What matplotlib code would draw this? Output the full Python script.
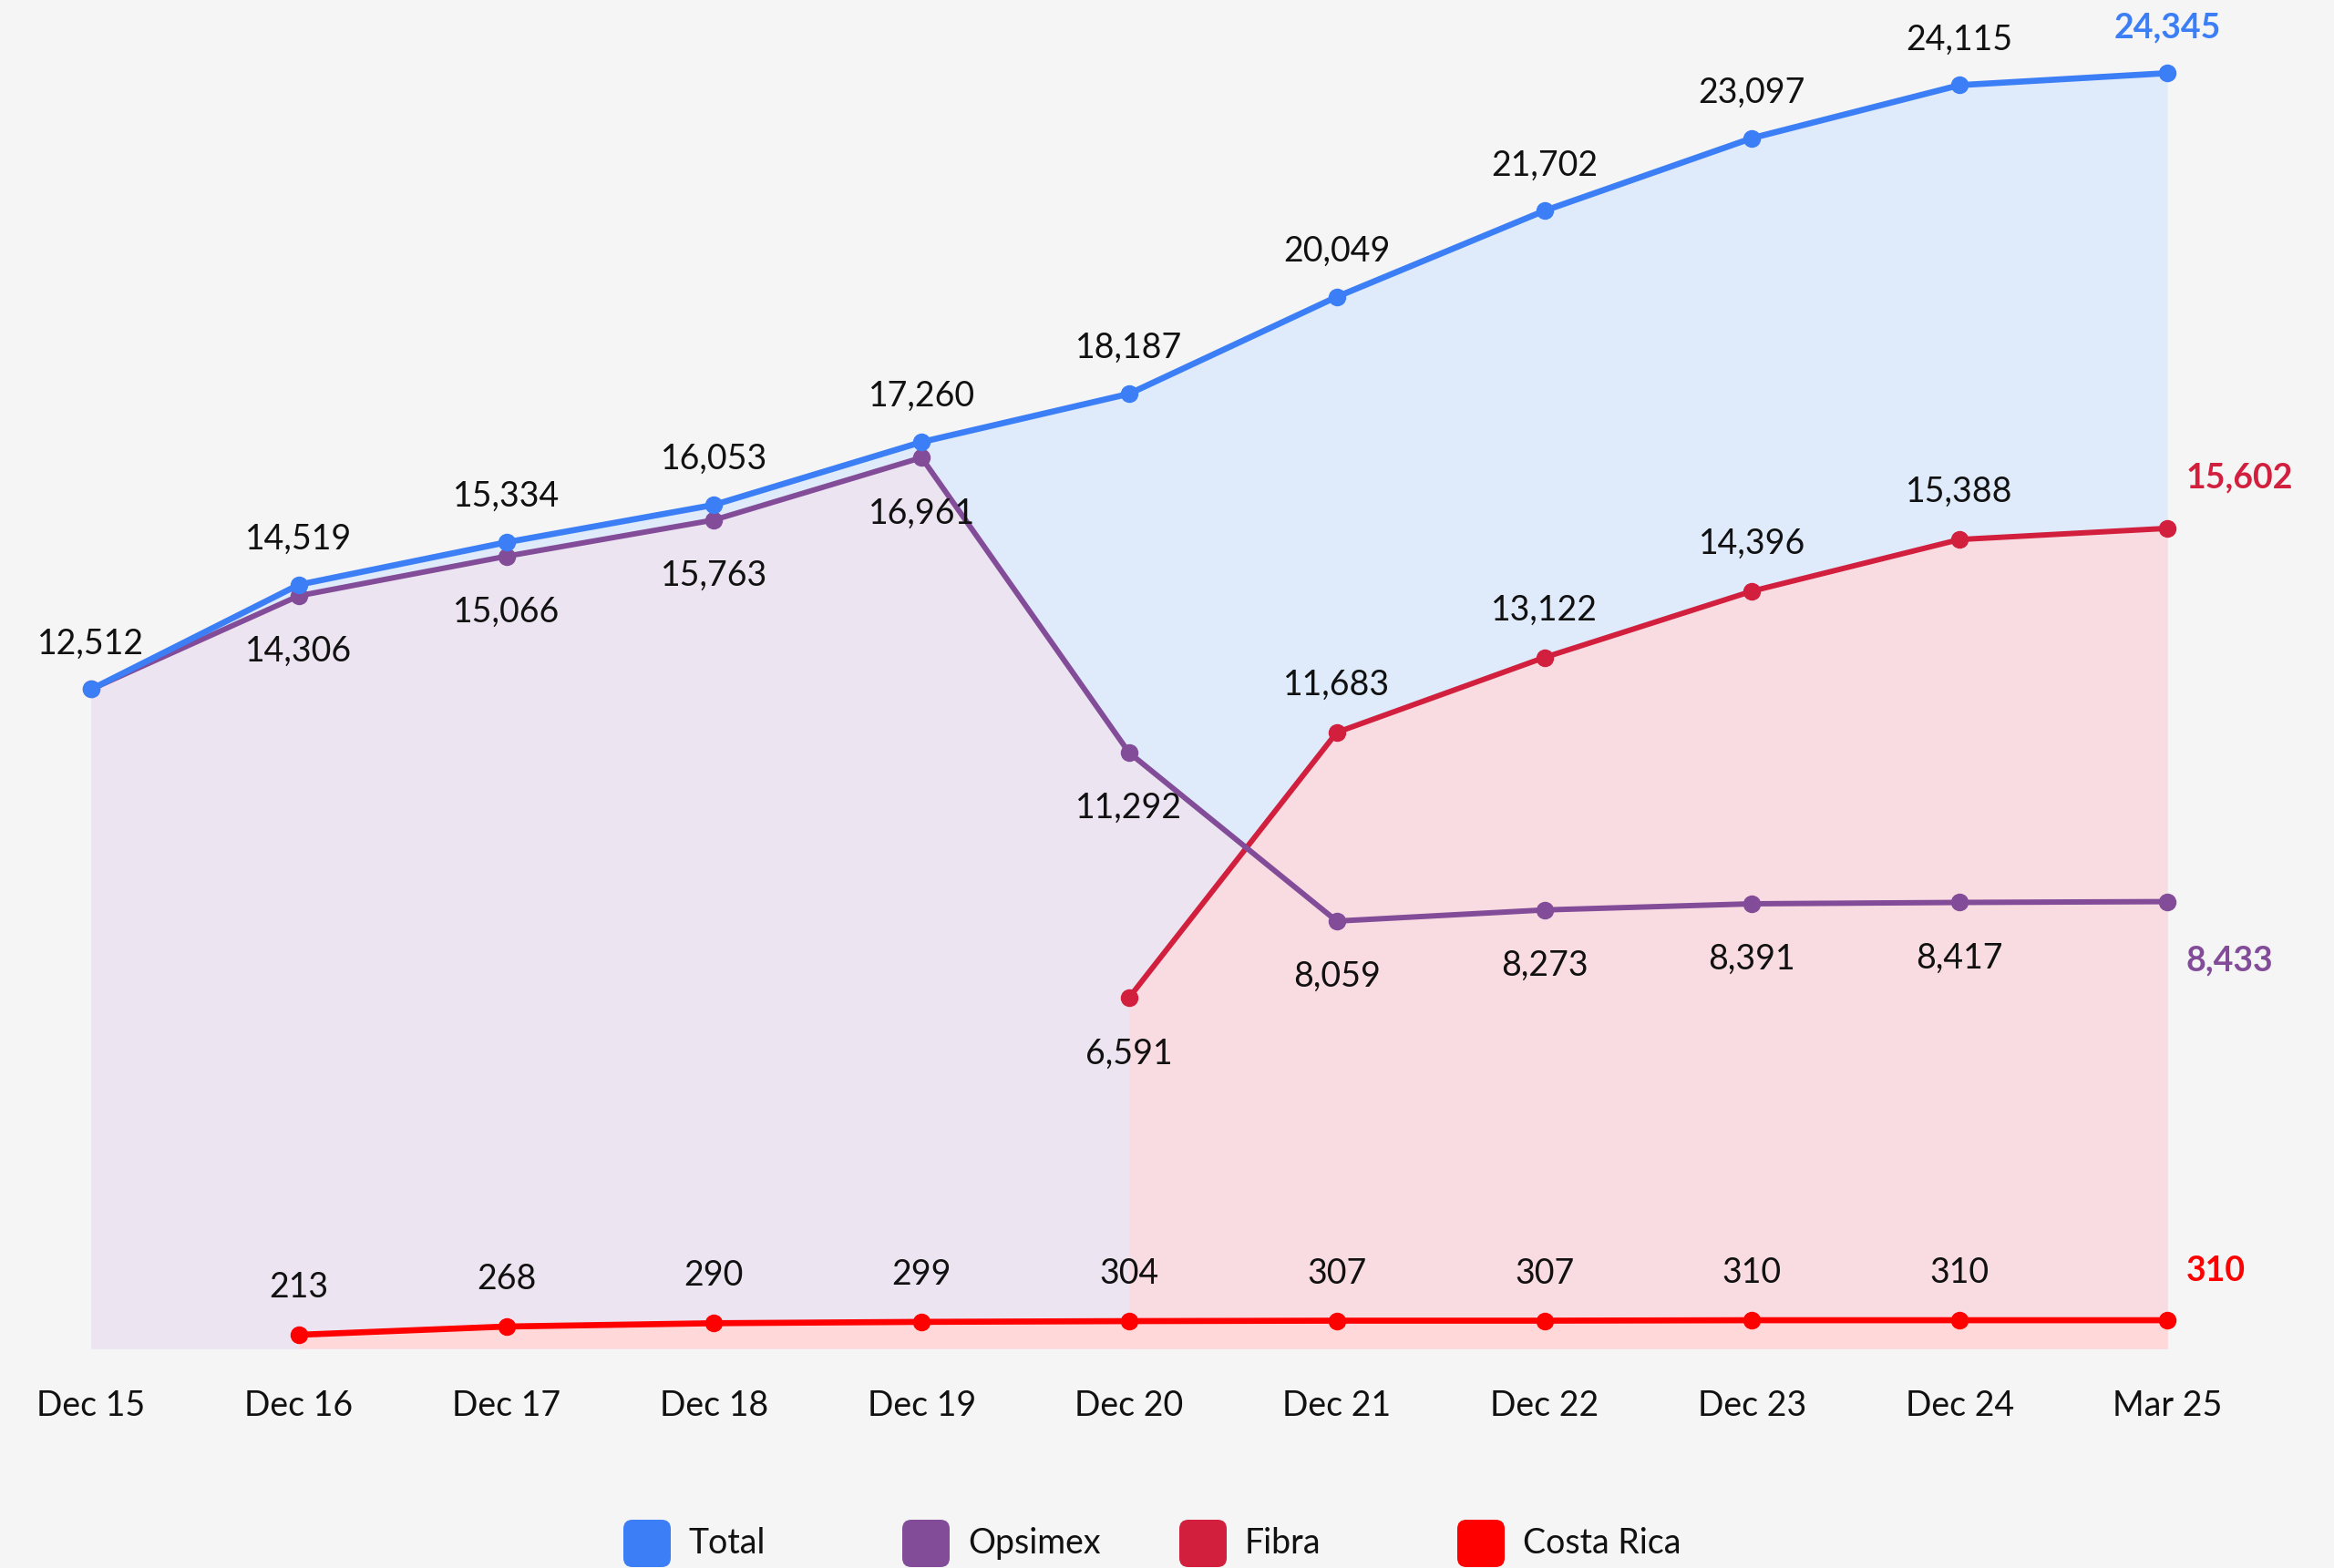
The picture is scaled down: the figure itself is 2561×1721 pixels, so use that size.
import matplotlib
matplotlib.use('Agg')
import matplotlib.pyplot as plt
from matplotlib.patches import FancyBboxPatch
from matplotlib.transforms import IdentityTransform
import numpy as np

plt.rcParams['font.family'] = ['Lato', 'DejaVu Sans']

categories = ['Dec 15', 'Dec 16', 'Dec 17', 'Dec 18', 'Dec 19', 'Dec 20',
              'Dec 21', 'Dec 22', 'Dec 23', 'Dec 24', 'Mar 25']
series_names = ['Total', 'Opsimex', 'Fibra', 'Costa Rica']
total = [12512, 14519, 15334, 16053, 17260, 18187, 20049, 21702, 23097, 24115, 24345]
opsimex = [12512, 14306, 15066, 15763, 16961, 11292, 8059, 8273, 8391, 8417, 8433]
fibra = [np.nan, np.nan, np.nan, np.nan, np.nan, 6591, 11683, 13122, 14396, 15388, 15602]
costa_rica = [np.nan, 213, 268, 290, 299, 304, 307, 307, 310, 310, 310]

line_colors = ['#3b7ef5', '#824c99', '#d11f3d', '#ff0000']
fill_colors = ['#dfeafb', '#ece4f0', '#f9dce2', '#ffd9d9']
BG = '#f5f5f5'

W, H = 2561, 1721
fig = plt.figure(figsize=(W / 100, H / 100), dpi=100, facecolor=BG)
ax = fig.add_axes([100 / W, 0.14, (2378 - 100) / W, 0.86])
ax.set_facecolor('none')
ax.set_xlim(0, 10)
ax.set_ylim(-150, 25750)
for s in ax.spines.values():
    s.set_visible(False)
ax.set_yticks([])
x = np.arange(len(categories))
FS = 27
ax.set_xticks(x, categories)
ax.tick_params(axis='x', length=0, pad=32, labelsize=FS, colors='#111111')

ax2 = ax.twinx()
ax2.set_ylim(122, 9092)
ax2.set_facecolor('none')
for s in ax2.spines.values():
    s.set_visible(False)
ax2.set_yticks([])

data = [total, opsimex, fibra, costa_rica]
axes_for = [ax, ax, ax, ax2]

# fills
for i, (vals, a) in enumerate(zip(data, axes_for)):
    v = np.array(vals, dtype=float)
    m = ~np.isnan(v)
    a.fill_between(x[m], v[m], a.get_ylim()[0], color=fill_colors[i], lw=0, zorder=1 + i)

# lines (Total on top of the others)
zl = [12, 11, 10, 10]
lws = [4.8, 4.3, 4.3, 4.8]
for i, (vals, a) in enumerate(zip(data, axes_for)):
    v = np.array(vals, dtype=float)
    m = ~np.isnan(v)
    a.plot(x[m], v[m], color=line_colors[i], lw=lws[i], marker='o', ms=13,
           zorder=zl[i], solid_capstyle='round', clip_on=False)

def lab(a, xi, v, dy, **kw):
    a.annotate(f'{int(v):,}', (xi, v), xytext=(0, dy), textcoords='offset pixels',
               ha=kw.pop('ha', 'center'), va='center', fontsize=FS,
               color=kw.pop('color', '#111111'), zorder=20, **kw)

n = len(categories)
# Total labels above
for i in range(n - 1):
    lab(ax, i, total[i], 50)
lab(ax, n - 1, total[-1], 50, color=line_colors[0], fontweight='bold')
# Opsimex labels below
for i in range(1, n - 1):
    lab(ax, i, opsimex[i], -61)
ax.annotate(f'{opsimex[-1]:,}', (n - 1, opsimex[-1]), xytext=(21, -65), textcoords='offset pixels',
            ha='left', va='center', fontsize=FS, color=line_colors[1], fontweight='bold', zorder=20)
# Fibra
for i in range(n - 1):
    if np.isnan(fibra[i]):
        continue
    first = i == 0 or np.isnan(fibra[i - 1])
    lab(ax, i, fibra[i], -62 if first else 52)
ax.annotate(f'{int(fibra[-1]):,}', (n - 1, fibra[-1]), xytext=(21, 55), textcoords='offset pixels',
            ha='left', va='center', fontsize=FS, color=line_colors[2], fontweight='bold', zorder=20)
# Costa Rica
for i in range(n - 1):
    if np.isnan(costa_rica[i]):
        continue
    lab(ax2, i, costa_rica[i], 52)
ax2.annotate(f'{int(costa_rica[-1]):,}', (n - 1, costa_rica[-1]), xytext=(21, 54), textcoords='offset pixels',
             ha='left', va='center', fontsize=FS, color=line_colors[3], fontweight='bold', zorder=20)

# legend
leg_x = [710, 1016, 1320, 1625]
leg_y = H - 1694
sz = 52
for i, name in enumerate(series_names):
    p = FancyBboxPatch((leg_x[i] - sz / 2 + 10, leg_y - sz / 2 + 10), sz - 20, sz - 20,
                       boxstyle='round,pad=10', transform=IdentityTransform(),
                       facecolor=line_colors[i], edgecolor='none')
    fig.patches.append(p)
    fig.text((leg_x[i] + 46) / W, leg_y / H, name, ha='left', va='center',
             fontsize=FS, color='#111111')

fig.savefig('out.png', dpi=100, facecolor=BG)
